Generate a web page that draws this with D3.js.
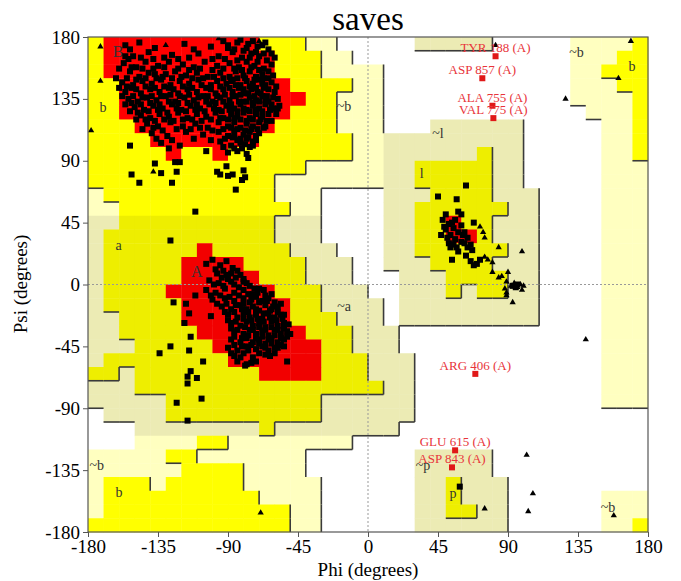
<!DOCTYPE html>
<html>
<head>
<meta charset="utf-8">
<script src="https://cdn.jsdelivr.net/npm/d3@7"></script>
<style>
  body { margin: 0; background: #fff; }
  text { font-family: "Liberation Serif", "Times New Roman", serif; }
</style>
</head>
<body>
<div id="chart"></div>
<script>
// region grid, 10 degree cells, top row is psi 170..180, run-length coded per row
// R core, Y allowed, G generous, . disallowed
var regionRows = [
  "Y1 R10 Y3 G2 .5 G5 .5 G4 Y1",
  "Y1 R11 Y3 G2 .14 G3 Y2",
  "Y1 R11 Y3 G4 .12 G2 Y3",
  "Y2 R11 Y4 G2 .12 G3 Y2",
  "Y2 R12 Y2 G3 .12 G4 Y1",
  "Y2 R11 Y3 G3 .13 G3 Y1",
  "Y3 R9 Y4 G3 .3 G6 .5 G2 Y1",
  "Y4 R7 Y6 G11 .5 G2 Y1",
  "Y5 R1 Y2 R1 Y8 G8 Y1 G2 .5 G2 Y1",
  "Y14 G7 Y5 G2 .5 G3",
  "Y12 G9 Y5 G2 .5 G3",
  "G1 Y11 G3 .4 G3 Y4 G3 .4 G3",
  "G2 Y11 G2 .4 G2 Y6 G2 .4 G3",
  "G2 Y10 G3 .4 G2 Y2 R1 Y2 G3 .4 G3",
  "G1 Y11 G3 .4 G2 Y2 R2 Y1 G3 .4 G3",
  "G1 Y6 R1 Y5 G3 .3 G2 Y6 G2 .4 G3",
  "G1 Y5 R4 Y4 G3 .2 G3 Y4 G3 .4 G3",
  "G1 Y5 R5 Y3 G3 .3 G3 Y4 G2 .4 G3",
  "G1 Y4 R7 Y3 G3 .2 G3 Y1 G1 Y2 G2 .4 G3",
  "G1 Y5 R7 Y2 G4 .1 G9 .4 G3",
  "G2 Y4 R7 Y3 G3 .1 G9 .4 G3",
  "G2 Y5 R7 Y3 G3 .13 G3",
  "G3 Y5 R7 Y2 G3 .13 G3",
  "G1 Y8 R6 Y3 G3 .12 G3",
  "Y2 G1 Y8 R4 Y3 G3 .12 G3",
  "G3 Y16 G2 .12 G3",
  "G5 Y10 G6 .12 G3",
  ".1 G4 Y10 G6 .15",
  ".3 G8 Y1 G8 .16",
  ".3 G4 Y2 G8 .19",
  "G5 Y2 G7 .7 G5 .10",
  "G6 Y4 G4 .7 G5 .10",
  "G1 Y3 G1 Y5 G5 .6 G2 Y1 G3 .9",
  "G1 Y10 G4 .6 G2 Y1 G3 .6 G3",
  "G1 Y12 G2 .6 G2 Y2 G2 .6 G3",
  "Y13 G2 .6 G6 .6 G2 Y1"
];

// shaded zones [phiMin, phiMax, psiMin, psiMax]
var shadeZones = [[-180, 30, -110, 50], [10, 110, -30, 120], [30, 90, -180, -120], [30, 80, 170, 180]];

var ticks = [-180, -135, -90, -45, 0, 45, 90, 135, 180];

// non-glycine residues [phi, psi]
var residues = [
  [-156,174],[-147,176],[-118,175],[-101,173],[-93,177],[-84,176],[-78,172],[-74,177],[-68,174],[-64,171],
  [-156,166],[-151,166],[-141,169],[-126,167],[-109,168],[-96,166],[-87,169],[-81,165],[-75,168],[-70,166],[-65,163],
  [-157,161],[-149,158],[-143,162],[-135,159],[-128,162],[-119,160],[-112,158],[-105,162],[-97,159],[-89,161],[-83,158],[-78,162],[-73,159],[-67,157],[-62,160],
  [-162,150],[-153,155],[-147,151],[-141,154],[-136,150],[-130,153],[-124,155],[-117,152],[-110,154],[-103,151],[-95,154],[-89,151],[-85,155],[-80,152],[-76,155],[-72,151],[-68,153],[-64,150],
  [-158,147],[-151,145],[-145,148],[-139,146],[-133,149],[-127,145],[-121,148],[-115,146],[-109,149],[-101,145],[-97,148],[-91,146],[-87,149],[-82,145],[-78,148],[-74,146],[-70,149],[-66,145],[-62,147],
  [-156,140],[-152,143],[-146,139],[-140,142],[-134,140],[-128,143],[-122,139],[-116,142],[-110,140],[-104,143],[-98,139],[-93,142],[-87,140],[-83,143],[-79,139],[-75,142],[-71,140],[-67,143],[-60,140],
  [-154,135],[-148,133],[-142,136],[-136,134],[-130,137],[-124,133],[-118,136],[-112,134],[-106,137],[-100,133],[-95,136],[-89,134],[-85,137],[-80,133],[-76,136],[-72,134],[-68,137],[-64,133],[-58,135],
  [-150,129],[-144,127],[-138,130],[-132,128],[-126,131],[-120,127],[-114,130],[-108,128],[-102,131],[-96,127],[-91,130],[-86,128],[-82,131],[-78,127],[-74,130],[-70,128],[-66,131],[-61,128],
  [-146,123],[-140,121],[-134,124],[-128,122],[-122,125],[-116,121],[-110,124],[-104,122],[-98,125],[-93,121],[-88,124],[-84,122],[-80,125],[-76,121],[-72,124],[-68,122],[-64,124],
  [-142,117],[-135,115],[-127,118],[-119,115],[-111,117],[-103,114],[-96,118],[-90,115],[-86,118],[-82,114],[-78,117],[-74,115],[-70,118],
  [-139,110],[-129,108],[-117,111],[-106,109],[-96,111],[-90,108],[-86,112],[-80,109],[-76,111],[-72,108],
  [-133,103],[-121,101],[-95,104],[-88,101],[-84,105],[-79,102],[-74,104],
  [-90,96],[-84,97],[-78,95],
  [-153,171],[-137,172],[-112,171],[-90,172],[-80,170],[-71,173],[-67,168],
  [-154,164],[-146,165],[-138,164],[-131,165],[-122,164],[-115,165],[-100,164],[-92,164],[-84,163],[-76,165],[-71,162],[-60,165],
  [-160,157],[-152,158],[-145,157],[-138,157],[-131,158],[-122,157],[-115,156],[-108,157],[-100,156],[-93,157],[-86,157],[-81,156],[-75,158],[-70,156],[-64,155],
  [-155,150],[-149,149],[-143,150],[-137,153],[-132,151],[-126,150],[-120,151],[-113,150],[-106,150],[-99,151],[-93,150],[-88,148],[-84,150],[-79,150],[-73,149],[-67,150],[-61,152],
  [-160,143],[-155,144],[-149,142],[-143,144],[-137,143],[-131,144],[-125,142],[-119,144],[-113,143],[-107,145],[-101,142],[-95,144],[-89,143],[-85,145],[-80,142],[-76,144],[-72,143],[-68,146],[-64,142],[-59,144],
  [-158,137],[-151,137],[-145,136],[-139,137],[-133,137],[-127,138],[-121,137],[-115,138],[-109,136],[-103,137],[-97,137],[-92,138],[-87,137],[-82,138],[-77,139],[-73,137],[-69,139],[-65,137],[-61,136],
  [-156,131],[-152,132],[-146,131],[-140,132],[-134,131],[-128,133],[-122,132],[-116,132],[-110,131],[-104,133],[-98,132],[-93,133],[-88,131],[-83,133],[-78,133],[-74,132],[-70,133],[-66,134],[-62,131],[-57,130],
  [-153,126],[-148,125],[-141,126],[-135,127],[-129,125],[-123,128],[-117,126],[-111,127],[-105,126],[-99,128],[-94,126],[-89,127],[-84,126],[-80,128],[-76,126],[-72,127],[-68,126],[-63,127],[-59,124],
  [-149,120],[-143,120],[-137,119],[-131,120],[-125,119],[-119,120],[-113,120],[-107,119],[-101,120],[-95,121],[-90,120],[-86,121],[-82,120],[-78,119],[-74,120],[-69,120],[-65,119],
  [-145,113],[-138,114],[-132,112],[-123,113],[-114,113],[-108,114],[-100,112],[-93,113],[-88,114],[-84,113],[-79,112],[-75,113],[-71,113],[-67,114],
  [-136,106],[-126,105],[-112,106],[-101,105],[-92,106],[-87,107],[-82,106],[-77,107],[-72,105],
  [-128,99],[-93,100],[-86,99],[-81,99],[-76,100],
  [-90,174],[-86,171],[-82,178],[-77,175],[-72,169],[-66,176],[-62,168],[-86,108],[-82,103],[-78,106],[-74,101],[-70,110],[-66,115],[-62,119],[-58,128],
  [-153,101],[-152,80],[-147,74],[-137,88],[-133,81],[-123,82],[-126,74],[-124,89],[-121,89],[-111,53],[-127,32],
  [-104,97],[-97,82],[-95,80],[-91,86],[-90,79],[-87,80],[-85,69],[-80,83],[-79,78],[-81,76],[-77,92],
  [-100,18],[-95,14],[-91,17],[-87,12],[-97,8],[-91,7],[-84,10],[-80,4],[-104,15],
  [-102,3],[-96,1],[-90,4],[-86,0],[-80,2],[-76,-1],
  [-104,-4],[-98,-6],[-92,-3],[-86,-6],[-80,-4],[-74,-7],[-70,-3],[-66,-8],
  [-100,-11],[-92,-10],[-86,-12],[-80,-10],[-76,-13],[-72,-9],[-68,-12],[-64,-10],[-60,-13],
  [-94,-16],[-88,-18],[-82,-15],[-78,-18],[-74,-16],[-70,-19],[-66,-15],[-62,-18],[-58,-16],
  [-90,-22],[-84,-24],[-80,-21],[-76,-24],[-72,-22],[-68,-25],[-64,-21],[-60,-24],[-56,-22],
  [-88,-28],[-82,-30],[-78,-27],[-74,-30],[-70,-28],[-66,-31],[-62,-27],[-58,-30],[-54,-28],
  [-86,-34],[-80,-36],[-76,-33],[-72,-36],[-68,-34],[-64,-37],[-60,-33],[-56,-36],[-52,-34],
  [-88,-40],[-82,-42],[-78,-39],[-74,-42],[-70,-40],[-66,-43],[-62,-39],[-58,-42],[-54,-40],
  [-90,-46],[-84,-48],[-78,-45],[-72,-47],[-68,-45],[-64,-48],[-60,-46],[-56,-44],
  [-86,-52],[-80,-50],[-74,-53],[-66,-51],[-60,-50],
  [-78,-58],[-72,-56],[-52,-56],
  [-98,11],[-93,10],[-88,8],[-85,5],[-82,7],[-94,5],[-99,0],[-93,-1],[-88,2],[-83,-2],[-78,1],[-73,-3],
  [-101,-8],[-95,-8],[-89,-9],[-83,-8],[-77,-7],[-71,-6],[-67,-4],[-62,-7],
  [-97,-14],[-91,-14],[-85,-15],[-80,-14],[-75,-11],[-70,-13],[-65,-12],[-61,-16],[-56,-14],
  [-92,-20],[-86,-20],[-81,-18],[-77,-20],[-72,-18],[-67,-21],[-63,-19],[-58,-20],[-54,-22],
  [-90,-26],[-85,-27],[-80,-25],[-75,-26],[-71,-25],[-67,-27],[-63,-24],[-59,-26],[-55,-25],[-51,-29],
  [-88,-32],[-84,-33],[-79,-31],[-74,-33],[-70,-31],[-66,-33],[-62,-31],[-58,-33],[-54,-32],[-50,-36],
  [-86,-38],[-81,-39],[-77,-37],[-72,-39],[-68,-38],[-64,-40],[-60,-37],[-56,-39],[-52,-38],
  [-86,-44],[-81,-45],[-75,-44],[-70,-43],[-66,-46],[-62,-43],[-58,-46],[-54,-45],
  [-88,-50],[-82,-53],[-77,-48],[-70,-50],[-63,-52],
  [-84,-56],[-75,-57],
  [-125,-13],[-117,-14],[-115,-21],[-111,-8],[-101,-23],[-118,-28],[-114,-38],[-115,-48],[-127,-45],[-134,-50],
  [-106,-56],[-114,-63],[-116,-67],[-116,-72],[-110,-68],[-107,-83],[-123,-86],[-116,-99],[-79,-59],
  [63,72],[45,64],[57,62],[50,51],[58,53],[60,51],[48,47],[68,45],[52,44],[55,41],[60,43],[62,38],
  [53,36],[56,33],[60,31],[64,34],[57,27],[52,30],[47,36],[64,27],[66,29],[67,25],[54,18],[53,27],
  [63,21],[66,17],[70,15],[72,18],[68,14],[93,-1],[95,-2],[96,0],
  [50,40],[54,45],[58,38],[56,47],[51,34],[61,36],[55,29],[58,24],[62,30],[49,42],
  [59,-147]
];

// glycine residues [phi, psi]
var glycines = [
  [72,42],[74,38],[75,34],[75,20],[77,18],[80,16],[84,27],[99,24],[80,9],[84,5],[86,6],[90,9],
  [89,2],[92,-1],[94,1],[96,-2],[98,0],[100,-1],[99,-4],[89,-6],[89,-8],[93,-13],[88,-3],
  [82,174],[127,135],[169,177],[161,150],[140,-40],[158,-168],[102,-124],[106,-152],[103,-165],[75,-163],
  [-69,-166],[-172,173],[-172,148],[-178,112],[-130,174],[-96,179],[-70,177],[-138,82]
];

var outlierNames = ["TYR 188 (A)", "ASP 857 (A)", "ALA 755 (A)", "VAL 775 (A)", "ARG 406 (A)", "GLU 615 (A)", "ASP 843 (A)"];
var outlierPhi = [82, 73.5, 80, 80.6, 69, 56, 54];
var outlierPsi = [166, 150, 130, 121, -65, -120.6, -133];

var regionLabels = [
  ["B", -160.7, 169.3], ["b", -170.3, 129], ["~b", -15.4, 130], ["a", -160.4, 28.4], ["A", -110, 9.3],
  ["~a", -15.4, -16], ["~l", 45, 110], ["l", 34.5, 81], ["~b", 134, 169.3], ["b", 169.7, 159],
  ["~p", 35.4, -131.3], ["p", 54.6, -151.6], ["~b", -174.4, -131.3], ["b", -160, -150.7], ["~b", 154.3, -161.6]
];

var W = 681, H = 581;
var svg = d3.select("#chart").append("svg").attr("width", W).attr("height", H);

var x = d3.scaleLinear().domain([-180, 180]).range([88, 648]);
var y = d3.scaleLinear().domain([-180, 180]).range([532, 37]);

// expand run-length rows into cells
var cells = [];
regionRows.forEach(function(row, r) {
  var c = 0;
  row.split(" ").forEach(function(tok) {
    var code = tok[0], n = +tok.slice(1);
    for (var k = 0; k < n; k++) { cells.push({r: r, c: c, code: code}); c++; }
  });
});
var grid = regionRows.map(function() { return []; });
cells.forEach(function(d) { grid[d.r][d.c] = d.code; });

function shaded(phi, psi) {
  return shadeZones.some(function(z) { return phi > z[0] && phi < z[1] && psi > z[2] && psi < z[3]; });
}
var plain = {R: "#ff0000", Y: "#ffff00", G: "#ffffc0"};
var dark = {R: "#f20000", Y: "#eeee00", G: "#ecebb4"};

svg.append("g").selectAll("rect")
  .data(cells.filter(function(d) { return d.code !== "."; }))
  .enter().append("rect")
  .attr("x", function(d) { return x(-180 + 10 * d.c); })
  .attr("y", function(d) { return y(180 - 10 * d.r); })
  .attr("width", function(d) { return x(-170 + 10 * d.c) - x(-180 + 10 * d.c) + 0.4; })
  .attr("height", function(d) { return y(170 - 10 * d.r) - y(180 - 10 * d.r) + 0.4; })
  .attr("fill", function(d) {
    var phi = -175 + 10 * d.c, psi = 175 - 10 * d.r;
    return shaded(phi, psi) ? dark[d.code] : plain[d.code];
  });

// boundary ticks: drawn where the level drops going right or down
var lvl = {R: 2, Y: 2, G: 1, ".": 0};
var edges = [];
for (var r = 0; r < 36; r++) {
  for (var c = 0; c < 36; c++) {
    var l = lvl[grid[r][c]];
    if (!l) continue;
    if (c < 35 && lvl[grid[r][c + 1]] < l) edges.push([-170 + 10 * c, 180 - 10 * r, -170 + 10 * c, 170 - 10 * r]);
    if (r < 35 && lvl[grid[r + 1][c]] < l) edges.push([-180 + 10 * c, 170 - 10 * r, -170 + 10 * c, 170 - 10 * r]);
  }
}
svg.append("g").selectAll("line").data(edges).enter().append("line")
  .attr("x1", function(d) { return x(d[0]); })
  .attr("y1", function(d) { return y(d[1]); })
  .attr("x2", function(d) { return x(d[2]); })
  .attr("y2", function(d) { return y(d[3]); })
  .attr("stroke", "#3a3a3a")
  .attr("stroke-width", 1.6);

// zero lines
svg.append("line").attr("x1", x(0)).attr("x2", x(0)).attr("y1", y(180)).attr("y2", y(-180))
  .attr("stroke", "#999").attr("stroke-dasharray", "2,2");
svg.append("line").attr("x1", x(-180)).attr("x2", x(180)).attr("y1", y(0)).attr("y2", y(0))
  .attr("stroke", "#999").attr("stroke-dasharray", "2,2");

// region labels
svg.append("g").selectAll("text").data(regionLabels).enter().append("text")
  .attr("x", function(d) { return x(d[1]); })
  .attr("y", function(d) { return y(d[2]); })
  .attr("dy", "0.35em")
  .attr("text-anchor", "middle")
  .attr("font-size", function(d) { return (d[0] === "A" || d[0] === "B") ? 16 : 14; })
  .attr("fill", "#333")
  .text(function(d) { return d[0]; });

svg.append("clipPath").attr("id", "plotclip").append("rect")
  .attr("x", 88).attr("y", 37).attr("width", 560).attr("height", 495);
var marks = svg.append("g").attr("clip-path", "url(#plotclip)");

marks.selectAll("rect.res").data(residues).enter().append("rect")
  .attr("class", "res")
  .attr("x", function(d) { return x(d[0]) - 3; })
  .attr("y", function(d) { return y(d[1]) - 3; })
  .attr("width", 6).attr("height", 6)
  .attr("fill", "#000");

marks.selectAll("path.gly").data(glycines).enter().append("path")
  .attr("class", "gly")
  .attr("d", d3.symbol(d3.symbolTriangle).size(17))
  .attr("transform", function(d) { return "translate(" + x(d[0]) + "," + y(d[1]) + ")"; })
  .attr("fill", "#000");

var outliers = outlierNames.map(function(n, i) { return {name: n, phi: outlierPhi[i], psi: outlierPsi[i]}; });
marks.selectAll("rect.out").data(outliers).enter().append("rect")
  .attr("class", "out")
  .attr("x", function(d) { return x(d.phi) - 3; })
  .attr("y", function(d) { return y(d.psi) - 3; })
  .attr("width", 6).attr("height", 6)
  .attr("fill", "#e01818");
svg.append("g").selectAll("text").data(outliers).enter().append("text")
  .attr("x", function(d) { return x(d.phi); })
  .attr("y", function(d) { return y(d.psi) - 4; })
  .attr("text-anchor", "middle")
  .attr("font-size", 13)
  .attr("fill", "#e8343a")
  .text(function(d) { return d.name; });

// frame
svg.append("rect").attr("x", 88).attr("y", 37).attr("width", 560).attr("height", 495)
  .attr("fill", "none").attr("stroke", "#555").attr("stroke-width", 1.2);

var xAxis = svg.append("g").attr("transform", "translate(0,532)")
  .call(d3.axisBottom(x).tickValues(ticks).tickSize(5).tickSizeOuter(0).tickPadding(3)
    .tickFormat(function(d) { return String(d); }));
var yAxis = svg.append("g").attr("transform", "translate(88,0)")
  .call(d3.axisLeft(y).tickValues(ticks).tickSize(5).tickSizeOuter(0).tickPadding(3)
    .tickFormat(function(d) { return String(d); }));
[xAxis, yAxis].forEach(function(g) {
  g.select(".domain").remove();
  g.selectAll("line").attr("stroke", "#555");
  g.selectAll("text").attr("font-family", "Liberation Serif, serif").attr("font-size", 19).attr("fill", "#000");
});

svg.append("text").attr("x", 368).attr("y", 30).attr("text-anchor", "middle")
  .attr("font-size", 33).text("saves");
svg.append("text").attr("x", 368).attr("y", 576).attr("text-anchor", "middle")
  .attr("font-size", 19).text("Phi (degrees)");
svg.append("text").attr("transform", "translate(27,284) rotate(-90)").attr("text-anchor", "middle")
  .attr("font-size", 19).text("Psi (degrees)");
</script>
</body>
</html>
